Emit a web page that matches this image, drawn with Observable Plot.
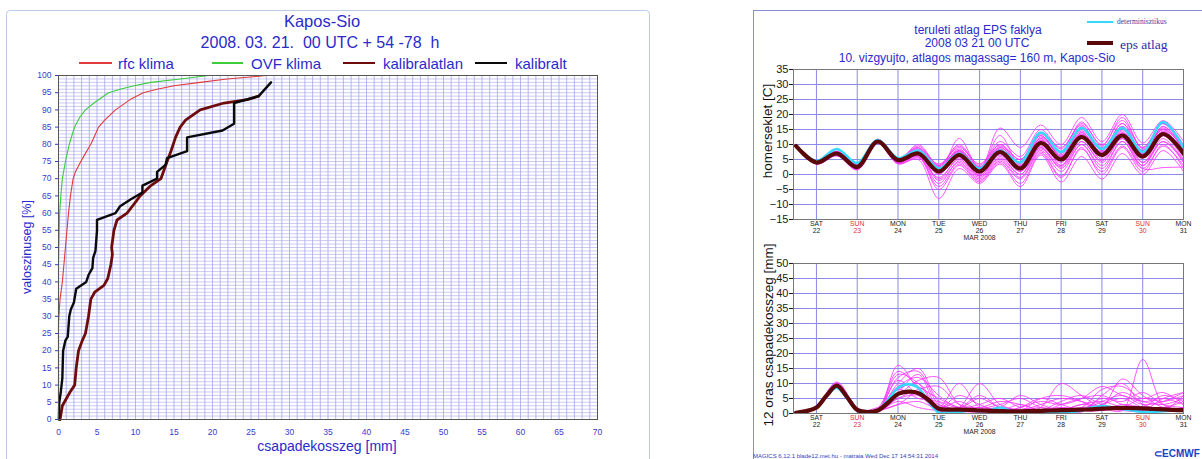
<!DOCTYPE html>
<html><head><meta charset="utf-8">
<script src="https://cdn.jsdelivr.net/npm/d3@7"></script>
<script src="https://cdn.jsdelivr.net/npm/@observablehq/plot@0.6"></script>
<style>
body{margin:0;background:#fff;width:1202px;height:459px;overflow:hidden;position:relative;font-family:"Liberation Sans",Arial,sans-serif}
.abs{position:absolute;white-space:nowrap;line-height:1}
.box{position:absolute}
</style></head><body>
<script>
// ---------- LEFT CHART DATA ----------
const cdfXTicks = [0,5,10,15,20,25,30,35,40,45,50,55,60,65,70];
const cdfYTicks = [0,5,10,15,20,25,30,35,40,45,50,55,60,65,70,75,80,85,90,95,100];
const rfcMm  = [0,0,0.05,0.2,0.5,0.7,0.9,1.1,1.3,1.55,1.9,2.2,2.9,3.4,4.2,4.6,5.2,6.0,7.4,9.3,11,12.8,15,18.4,21.9,24.5,27];
const rfcPct = [0,28,30,35,40,45,50,55,60,65,70,72,75,77,80,82,85,87,90,93,95,96,97,98,99,99.5,100];
const ovfMm  = [0,0,0.05,0.1,0.15,0.3,0.5,0.9,1.4,1.8,2.1,2.8,3.5,4.6,6.5,8,9.8,12,15.8,19.5];
const ovfPct = [0,45,50,55,60,65,70,75,80,83,85,88,90,92,95,96,97,98,99,100];
const kalUncalMm  = [0.2,0.5,1.5,2.1,2.3,2.6,3.1,3.5,3.9,4.2,4.7,5.9,6.4,6.8,7.0,6.9,7.2,7.6,8.9,9.6,10.6,12,13.3,14.1,14.6,15.2,15.8,16.5,18.4,21.5,24.5,26];
const kalUncalPct = [0,4,8,10,15,20,23,25,30,35,37,39,41,45,48,50,55,58,60,62,65,68,70,75,78,82,85,87,90,92,93,94];
const kalMm  = [0.05,0.1,0.3,0.5,0.6,0.9,1.2,1.4,1.6,2.0,2.3,3.6,3.9,4.4,4.5,4.8,5.0,5.0,7.4,8.0,9.4,10.9,10.9,12.8,12.8,13.9,14.1,16.7,16.7,21.3,22.8,22.8,26.0,27.6];
const kalPct = [0,5,8,12,20,23,24,30,32,34,38,40,42,44,47,49,55,58,60,62,64,66,68,70,72,74,76,78,82,84,86,92,94,98];

// ---------- RIGHT CHARTS DATA ----------
const dayHours = [24,48,72,96,120,144,168,192,216,240];
const dayNames = ["SAT","SUN","MON","TUE","WED","THU","FRI","SAT","SUN","MON"];
const dayNums  = ["22","23","24","25","26","27","28","29","30","31"];
const tempTicks = [-15,-10,-5,0,5,10,15,20,25,30,35];
const precTicks = [0,5,10,15,20,25,30,35,40,45,50];
const hours12 = [12,24,36,48,60,72,84,96,108,120,132,144,156,168,180,192,204,216,228,240];
const hours6 = [12,18,24,30,36,42,48,54,60,66,72,78,84,90,96,102,108,114,120,126,132,138,144,150,156,162,168,174,180,186,192,198,204,210,216,222,228,234,240];

const tempMean    = [9.5,4,7,2.5,11,4.8,7,1,6.5,1,7.5,2,10.5,5,12.5,6.5,13,6,13.5,7];
const tempControl = [9.6,4.5,8.5,3.8,11.5,5.5,8,2,7,2,8,4,14,7.5,15.5,8.5,15.5,7.5,17.5,9];
const tempMembers = [
  [9.6,4.2,7.2,2.8,11.2,4.8,7.5,1.5,7,1.5,8,2.5,11,5.5,13,7,14,6.5,14,7.5],
  [9.4,3.8,6.8,2.2,10.8,4.2,6.5,0.5,6,0.5,7,1.5,10,4.5,12,6,13,5.5,13,6.5],
  [9.8,4.6,7.8,3.5,11.8,5.5,8.5,2.5,8,2.5,9,4,12.5,7,15,9,16,8,15,9],
  [9.2,3.4,6.2,1.5,10.4,3.5,5.5,-1,5,-0.5,6,0,9,3,11,4.5,12,4,11,5],
  [9.5,4,7,2.6,11,4.6,9.5,3,10,3,11,6,15,8.5,17,10,18,9,17,10],
  [9.7,4.4,7.4,3,11.4,5.2,7,-2,4,-1.5,5,-1,8,1,10,2,11,3,12,4],
  [9.3,3.6,6.6,2,10.6,4,6,-5,3,-2.5,4,-3,7,-1,9,0,9,1,10,2],
  [9.6,4.3,7.5,3.2,11.3,5,8,1,12,2,13,3,14,6,16,8,17,7,16,8],
  [9.4,3.9,6.9,2.4,10.9,4.4,7.2,-1.5,5.5,0,8,2,11.5,5,13.5,6.5,15,6,14.5,7],
  [9.5,4.1,7.1,2.7,11.1,4.7,6.8,0,6.5,1,6.5,1,9.5,4,12.5,5,13.5,7,13,8],
  [9.8,4.5,7.6,3.4,11.6,5.4,8.8,3.5,9,3.5,10,5,13,6,14,7.5,15,7,16,9],
  [9.2,3.5,6.4,1.8,10.5,3.8,5,-8,2,-3,3.5,-4,6.5,-2.5,6,-1.5,7,0,8,1],
  [9.6,4.2,7.3,2.9,11.2,5,7.8,1.8,8.5,1.8,15.5,9,16.5,10,19,11,20,10.5,18,11],
  [9.4,3.7,6.7,2.3,10.7,4.3,6.8,0.8,6.8,-0.5,7,2.5,12,3,14,6,14.5,4,13,5],
  [9.5,4,7,2.5,11,4.6,7.4,2,7.5,2,9.5,5,14,9,16.5,8,17,9,17,8.5],
  [9.7,4.4,7.5,3.1,11.5,5.3,7.6,1.2,6,1,7,1,9,2,10,3,11,2,2.3,2.5],
  [9.3,3.6,6.5,1.9,10.6,4,6.2,-3,4.5,-1,5.5,0,8.5,2.5,11,4,12,3,11,4],
  [9.6,4.3,7.3,2.8,11.3,4.9,8.2,2.8,9.5,2.5,10,3.5,13.5,7.5,17.5,9.5,19,8.5,17,9],
  [9.5,4,7,2.6,11,4.5,7.3,0.3,6.3,0.3,7.8,2,10.5,4.8,12.8,6.8,13.2,5.8,13.8,6.8],
  [9.4,3.8,6.8,2.3,10.8,4.4,7,1,7.2,1.2,7.2,1.6,10.8,5.2,12.2,5.8,12.8,6.2,13.2,7.2],
  [9.7,4.5,7.7,3.3,11.7,5.6,9,2.2,7.8,1.5,8.5,3,12,6.5,14.5,8.5,15.5,7.5,15.5,8],
  [9.3,3.5,6.3,1.6,10.4,3.6,5.8,-4,3.5,-2,4.5,-1.5,7.5,-0.5,8.5,1,9.5,2,9.5,3],
  [9.5,4.1,7.1,2.7,11.1,4.7,7.6,1.4,7.4,1.4,8.4,2.4,11.4,5.4,13.4,7.4,13.8,6.6,14.2,7.4],
  [9.6,4.2,7.2,2.9,11.2,4.9,10,3,8,1,9,4,13,6,15.5,7,16,8,15,6]
];

const precMean    = [0.2,0.8,2,6,9.3,5.5,1.2,0.5,1,3.5,6.5,7.3,6.8,4.5,1.6,1.3,1.3,1.2,1,0.9,0.8,0.7,0.7,0.8,0.9,1,1.1,1.2,1.3,1.4,1.6,1.8,1.9,1.8,1.7,1.5,1.4,1.2,1.1];
const precControl = [0.2,0.8,2,6,8.5,5,1,0.5,1,4.5,8.5,9.8,8.5,4,0.3,0.3,0.5,1,0.8,1,2,1,0.5,0.3,0.3,0.3,0.3,0.5,1,2,2.5,2,1.5,1,0.5,0.5,0.8,1,1.2];
const precMembers = [
  [0.2,2,9.5,1,1,12,14,3,1,2,1,0.5,1,2,1,3,5,2,1,2],
  [0.1,1.8,8.8,0.8,1.5,8,10,2,4,1,0.5,1,3,5,4,2,1,18,3,1],
  [0.3,2.2,10.2,1.5,0.8,16,8,1,0.5,1.5,3,5,2,1,0.5,6,10,3,2,4],
  [0.2,1.9,9,1,2,5,6,0.5,2,10,3,1,0.5,1,3,4,2,1,5,7],
  [0.1,2.1,9.3,1.2,1,3,4,2,10,2,1,0.5,2,10,6,2,1,0.5,1,2],
  [0.2,2,8.5,0.6,1.2,10,15,4,1,0.5,0.5,2,4,3,5,9,6,4,3,5],
  [0.3,2.3,10.5,2,0.5,6,11,12,3,1,2,6,3,1,1,2,11.5,6,2,1],
  [0.1,1.7,9.1,1,1.8,14,9,5,2,1,0.5,0.5,1,4,6,3,2,2,6,4],
  [0.2,2,9.7,1.3,0.7,4,2,1,1.5,3,5,2,1,0.5,1,5,4,7,3,2],
  [0.2,1.9,8.9,0.9,1.5,9,12,6,2,5,2,1,5,6,4,1,3,2,1,6],
  [0.2,2.1,9.6,1.1,1,7,13,2,6,3,1,3,1,2,2,8,9,5,7,3],
  [0.1,2,9.2,1,1.3,11,6,3,1,0.5,1,1,2,1,3,2,1.5,1,2,1],
  [0.3,2.2,9.9,1.4,0.9,5,8,9,3,2,4,3,1,0.5,1,4,6,3,4,7],
  [0.2,1.8,8.7,0.8,1.1,13,10,1,0.5,1,2,1,0.5,1,2,3,7,4,5,3],
  [0.2,2,9.4,1,1.4,8,5,4,2,6,2,0.5,0.5,3,5,6,3,2,1,2],
  [0.1,2,9,1.1,1,3,7,2,1,1,0.5,2,5,3,1,1,2,5,4,6]
];

// ---------- helpers ----------
const body = document.body;
function box(x, y, w, h, el) {
  const d = document.createElement("div");
  d.className = "box";
  Object.assign(d.style, {left: x + "px", top: y + "px", width: w + "px", height: h + "px"});
  if (el) d.appendChild(el);
  body.appendChild(d);
  return d;
}
function label(txt, x, y, o = {}) {
  const d = document.createElement("div");
  d.className = "abs";
  d.textContent = txt;
  Object.assign(d.style, {
    left: x + "px", top: y + "px",
    fontSize: (o.size || 12) + "px",
    color: o.color || "#000",
    fontFamily: o.font || '"Liberation Sans", Arial, sans-serif',
    fontWeight: o.weight || "normal",
    transform: o.t || "translate(0,-50%)"
  });
  body.appendChild(d);
  return d;
}
function swatch(x, y, w, h, color) {
  const d = box(x, y - h / 2, w, h);
  d.style.background = color;
}
const pairs = (xs, ys) => xs.map((x, i) => ({x, y: ys[i]}));
const rows = (members, hrs) => members.flatMap((vals, m) => vals.map((v, i) => ({t: hrs[i], v, m})));
const series = (vals, hrs) => vals.map((v, i) => ({t: hrs[i], v}));

// ---------- panel borders ----------
const lb = box(6, 10, 642, 470); lb.style.border = "1.5px solid #b9cde8"; lb.style.borderRadius = "4px";
const rb = box(753, 10, 470, 470); rb.style.border = "1px solid #8a8ae0";

// ---------- LEFT CHART ----------
const blueTxt = "#2a2acc";
const gridL = "#a6a6ee";
const leftPlot = Plot.plot({
  width: 650, height: 459,
  marginLeft: 58, marginRight: 53, marginTop: 75, marginBottom: 40,
  style: {background: "transparent", color: "#3a3acc", fontFamily: '"Liberation Sans", Arial, sans-serif', fontSize: "8.5px"},
  x: {domain: [0, 70], ticks: cdfXTicks, tickSize: 0, tickPadding: 9, label: null},
  y: {domain: [0, 100], ticks: cdfYTicks, tickSize: 3, tickPadding: 4, label: null},
  marks: [
    Plot.ruleX(d3.range(0, 71, 1), {stroke: gridL, strokeWidth: 0.8}),
    Plot.ruleY(d3.range(0, 101, 1), {stroke: gridL, strokeWidth: 0.6}),
    Plot.line(pairs(ovfMm, ovfPct), {x: "x", y: "y", stroke: "#3ccc3c", strokeWidth: 1.1}),
    Plot.line(pairs(rfcMm, rfcPct), {x: "x", y: "y", stroke: "#e03a3a", strokeWidth: 1.1}),
    Plot.line(pairs(kalUncalMm, kalUncalPct), {x: "x", y: "y", stroke: "#6e0c0c", strokeWidth: 2.8}),
    Plot.line(pairs(kalMm, kalPct), {x: "x", y: "y", stroke: "#0a0a0a", strokeWidth: 2.4}),
    Plot.frame({stroke: "#555", strokeWidth: 1})
  ]
});
box(0, 0, 650, 459, leftPlot);

label("Kapos-Sio", 322, 21, {size: 16.5, color: blueTxt, t: "translate(-50%,-50%)"});
label("2008. 03. 21.  00 UTC + 54 -78  h", 320, 43, {size: 16, color: blueTxt, t: "translate(-50%,-50%)"}).style.whiteSpace = "pre";
swatch(79, 63, 33, 1.3, "#e03a3a");
label("rfc klima", 118, 63, {size: 15, color: blueTxt});
swatch(212, 63, 31, 1.3, "#3ccc3c");
label("OVF klima", 251, 63, {size: 15, color: blueTxt});
swatch(343, 63, 32, 2.5, "#6e0c0c");
label("kalibralatlan", 383, 63, {size: 15, color: blueTxt});
swatch(475, 63, 32, 2.5, "#0a0a0a");
label("kalibralt", 515, 63, {size: 15, color: blueTxt});
label("csapadekosszeg [mm]", 327, 446, {size: 14, color: blueTxt, t: "translate(-50%,-50%)"});
label("valoszinuseg [%]", 27, 247, {size: 12.5, color: blueTxt, t: "translate(-50%,-50%) rotate(-90deg)"});

// ---------- RIGHT CHARTS ----------
const gridR = "#8a8ae6";
const memberC = "#ff2cff", controlC = "#36d8ff", meanC = "#5a0808";
const sunIdx = dayNames.map((n, i) => n === "SUN" ? i : -1).filter(i => i >= 0);
const othIdx = dayNames.map((n, i) => n !== "SUN" ? i : -1).filter(i => i >= 0);
function dayLabels(dyBase) {
  const fs = 6.8;
  return [
    Plot.text(othIdx, {x: i => dayHours[i], text: i => dayNames[i], frameAnchor: "bottom", dy: dyBase, fontSize: fs, fill: "#222"}),
    Plot.text(sunIdx, {x: i => dayHours[i], text: i => dayNames[i], frameAnchor: "bottom", dy: dyBase, fontSize: fs, fill: "#e03030"}),
    Plot.text(othIdx, {x: i => dayHours[i], text: i => dayNums[i], frameAnchor: "bottom", dy: dyBase + 7, fontSize: fs, fill: "#222"}),
    Plot.text(sunIdx, {x: i => dayHours[i], text: i => dayNums[i], frameAnchor: "bottom", dy: dyBase + 7, fontSize: fs, fill: "#e03030"}),
    Plot.text(["MAR 2008"], {x: dayHours[4], text: d => d, frameAnchor: "bottom", dy: dyBase + 14, fontSize: fs, fill: "#222"})
  ];
}
const rStyle = {background: "transparent", color: "#1a1a1a", fontFamily: '"Liberation Sans", Arial, sans-serif', fontSize: "11px", overflow: "visible"};

const topPlot = Plot.plot({
  width: 462, height: 190,
  marginLeft: 53, marginRight: 19, marginTop: 9, marginBottom: 31,
  style: rStyle,
  x: {domain: [10.5, 240], axis: null},
  y: {domain: [-15, 35], ticks: tempTicks, tickSize: 4, tickPadding: 1, label: null},
  marks: [
    Plot.ruleX(dayHours, {stroke: gridR, strokeWidth: 1}),
    Plot.ruleY(tempTicks, {stroke: gridR, strokeWidth: 1}),
    Plot.line(rows(tempMembers, hours12), {x: "t", y: "v", z: "m", stroke: memberC, strokeWidth: 0.8, curve: "catmull-rom", clip: true}),
    Plot.line(series(tempControl, hours12), {x: "t", y: "v", stroke: controlC, strokeWidth: 2.6, curve: "catmull-rom", clip: true}),
    Plot.line(series(tempMean, hours12), {x: "t", y: "v", stroke: meanC, strokeWidth: 4.2, curve: "catmull-rom", clip: true}),
    Plot.frame({stroke: "#777"}),
    ...dayLabels(6.5)
  ]
});
box(740, 60, 462, 190, topPlot);

const botPlot = Plot.plot({
  width: 462, height: 209,
  marginLeft: 53, marginRight: 19, marginTop: 13, marginBottom: 46,
  style: rStyle,
  x: {domain: [10.5, 240], axis: null},
  y: {domain: [0, 50], ticks: precTicks, tickSize: 4, tickPadding: 1, label: null},
  marks: [
    Plot.ruleX(dayHours, {stroke: gridR, strokeWidth: 1}),
    Plot.ruleY(precTicks, {stroke: gridR, strokeWidth: 1}),
    Plot.line(rows(precMembers, hours12), {x: "t", y: "v", z: "m", stroke: memberC, strokeWidth: 0.8, curve: "catmull-rom", clip: true}),
    Plot.line(series(precControl, hours6), {x: "t", y: "v", stroke: controlC, strokeWidth: 2.6, curve: "catmull-rom", clip: true}),
    Plot.line(series(precMean, hours6), {x: "t", y: "v", stroke: meanC, strokeWidth: 4.2, curve: "catmull-rom", clip: true}),
    Plot.frame({stroke: "#777"}),
    ...dayLabels(6.5)
  ]
});
box(740, 250, 462, 209, botPlot);

label("teruleti atlag EPS faklya", 978, 30, {size: 12, color: blueTxt, t: "translate(-50%,-50%)"});
label("2008 03 21 00 UTC", 977, 43, {size: 12, color: blueTxt, t: "translate(-50%,-50%)"});
label("10. vizgyujto, atlagos magassag= 160 m, Kapos-Sio", 977, 58, {size: 12, color: blueTxt, t: "translate(-50%,-50%)"});
swatch(1087, 22, 26, 2, controlC);
label("determinisztikus", 1117, 22, {size: 7.5, color: "#3a3aa8", font: '"Liberation Serif", "DejaVu Serif", serif'});
swatch(1087, 43, 26, 4, meanC);
label("eps atlag", 1120, 45, {size: 13.5, color: "#2a2ab0", font: '"Liberation Serif", "DejaVu Serif", serif'});
label("homerseklet [C]", 768, 131, {size: 13.5, color: "#111", t: "translate(-50%,-50%) rotate(-90deg)"});
label("12 oras csapadekosszeg [mm]", 769, 335, {size: 13.5, color: "#111", t: "translate(-50%,-50%) rotate(-90deg)"});
label("MAGICS 6.12.1 blade12.met.hu - matraia Wed Dec 17 14:54:31 2014", 753, 456, {size: 6, color: "#3344bb"});
label("\u2282ECMWF", 1154, 454, {size: 10, color: "#1b3fbf", weight: "bold"});
</script></body></html>
